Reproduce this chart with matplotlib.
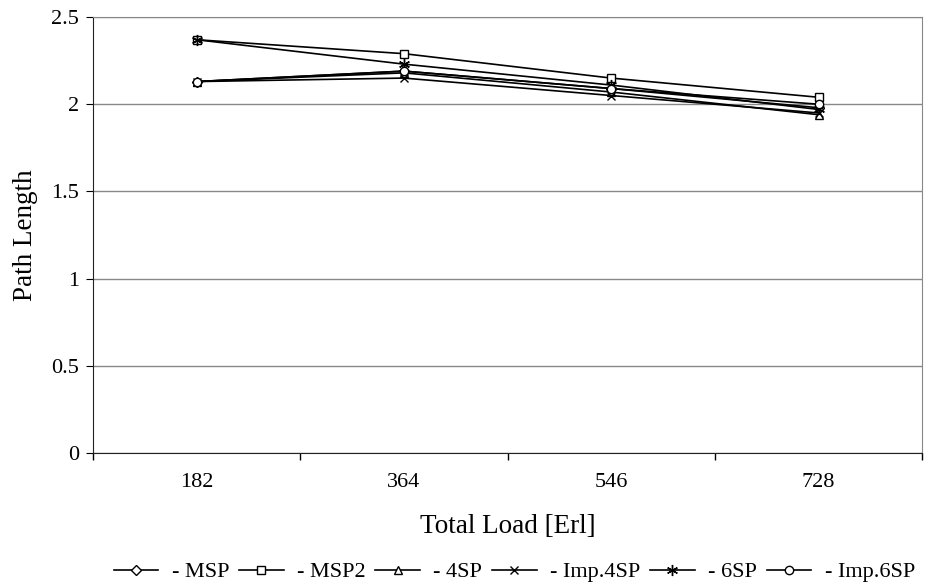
import matplotlib
matplotlib.use("Agg")
import matplotlib.pyplot as plt

categories = ["182", "364", "546", "728"]
msp = [2.13, 2.19, 2.09, 1.98]
msp2 = [2.37, 2.29, 2.15, 2.04]
sp4 = [2.13, 2.18, 2.07, 1.94]
imp4sp = [2.13, 2.15, 2.05, 1.95]
sp6 = [2.37, 2.23, 2.11, 1.97]
imp6sp = [2.13, 2.19, 2.09, 2.00]

series = [
    ("- MSP", msp, "D", 5),
    ("- MSP2", msp2, "s", 6),
    ("- 4SP", sp4, "^", 6),
    ("- Imp.4SP", imp4sp, "x", 6),
    ("- 6SP", sp6, (6, 2, 0), 8),
    ("- Imp.6SP", imp6sp, "o", 6),
]

plt.rcParams['font.family'] = ['Liberation Serif', 'DejaVu Serif']
fig = plt.figure(figsize=(9.25, 5.88), dpi=100)
ax = fig.add_axes([0.1005, 0.2296, 0.8965, 0.7414])

x = list(range(len(categories)))
for label, vals, mk, ms in series:
    ax.plot(x, vals, color="black", lw=1.2, marker=mk, markersize=ms,
            markerfacecolor="white", markeredgecolor="black", markeredgewidth=1.0,
            label=label)

ax.set_xlim(-0.5, len(categories) - 0.5)
ax.set_ylim(0, 2.5)
ax.set_yticks([0, 0.5, 1, 1.5, 2, 2.5])
ax.set_yticklabels(["0", "0.5", "1", "1.5", "2", "2.5"])
ax.set_xticks(x)
ax.set_xticklabels(categories)
ax.set_xticks([i - 0.5 for i in range(len(categories) + 1)], minor=True)
ax.tick_params(axis="x", which="major", length=0, pad=14.5, labelsize=16)
ax.tick_params(axis="x", which="minor", length=5, direction="out", width=1)
ax.tick_params(axis="y", labelsize=16, length=5, direction="out", pad=5)
ax.yaxis.grid(True, color="#888888", lw=1)
ax.set_axisbelow(True)
for s in ["top", "right"]:
    ax.spines[s].set_color("#888888")
ax.spines["left"].set_color("#222222")
ax.spines["bottom"].set_color("#222222")

ax.set_xlabel("Total Load [Erl]", fontsize=19.5)
ax.xaxis.set_label_coords(0.5, -0.1697)
ax.xaxis.label.set_va("center")
ax.set_ylabel("Path Length", fontsize=19.5)
ax.yaxis.set_label_coords(-0.0808, 0.5)
ax.yaxis.label.set_va("center")

fig.legend(loc="center", bbox_to_anchor=(0.556, 0.027), ncol=6, frameon=False,
           fontsize=16, handlelength=2.0, columnspacing=0.45, handletextpad=0.6,
           borderpad=0, borderaxespad=0)

fig.savefig("out.png", dpi=100)
